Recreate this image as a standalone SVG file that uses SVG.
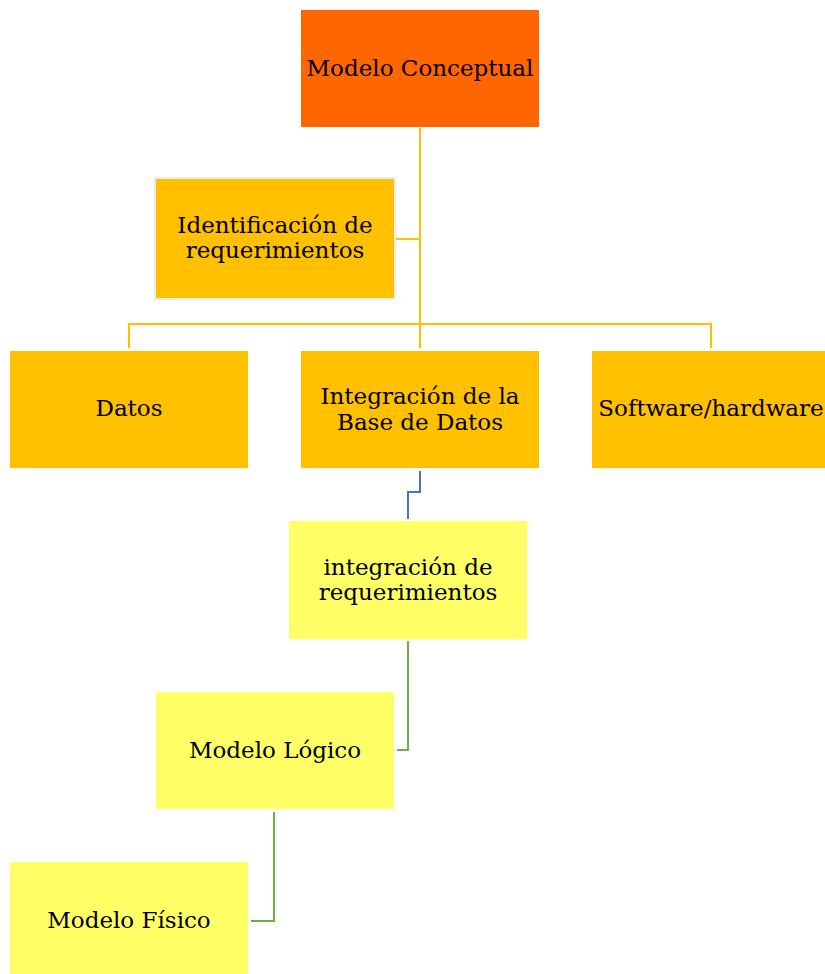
<svg xmlns="http://www.w3.org/2000/svg" width="825" height="974" viewBox="0 0 825 974">
<style>
.t{font-family:"DejaVu Serif","Liberation Serif",serif;font-size:23px;fill:#000;text-anchor:middle}
.y{stroke:#FFC000;stroke-width:2;fill:none}
.b{stroke:#4472C4;stroke-width:2;fill:none}
.g{stroke:#70AD47;stroke-width:2;fill:none}
</style>
<rect width="825" height="974" fill="#fff"/>
<g id="connectors">
<path class="y" d="M420,128 V348"/>
<path class="y" d="M396,239 H420"/>
<path class="y" d="M129,348 V324 H711 V348"/>
<path class="b" d="M420,471 V492 H408 V519"/>
<path class="g" d="M408,641 V750 H397"/>
<path class="g" d="M274,812 V921 H251"/>
</g>
<g id="modelo-conceptual">
<rect x="301" y="10" width="238" height="117" fill="#FF6600"/>
<text class="t" x="420" y="76">Modelo Conceptual</text>
</g>
<g id="identificacion">
<rect x="155" y="178" width="240" height="121" fill="#FFC000" stroke="#EDEDED" stroke-width="2"/>
<text class="t" x="275" y="233">Identificación de</text>
<text class="t" x="275" y="258">requerimientos</text>
</g>
<g id="datos">
<rect x="10" y="351" width="238" height="117" fill="#FFC000"/>
<text class="t" x="129" y="416">Datos</text>
</g>
<g id="integracion-bd">
<rect x="301" y="351" width="238" height="117" fill="#FFC000"/>
<text class="t" x="420" y="404">Integración de la</text>
<text class="t" x="420" y="430">Base de Datos</text>
</g>
<g id="software">
<rect x="592" y="351" width="240" height="117" fill="#FFC000"/>
<text class="t" x="711" y="416">Software/hardware</text>
</g>
<g id="integracion-req">
<rect x="289" y="521" width="238" height="118" fill="#FFFF66"/>
<text class="t" x="408" y="575">integración  de</text>
<text class="t" x="408" y="600">requerimientos</text>
</g>
<g id="modelo-logico">
<rect x="156" y="692" width="238" height="117" fill="#FFFF66"/>
<text class="t" x="275" y="758">Modelo Lógico</text>
</g>
<g id="modelo-fisico">
<rect x="10" y="862" width="238" height="112" fill="#FFFF66"/>
<text class="t" x="129" y="928">Modelo Físico</text>
</g>
</svg>
